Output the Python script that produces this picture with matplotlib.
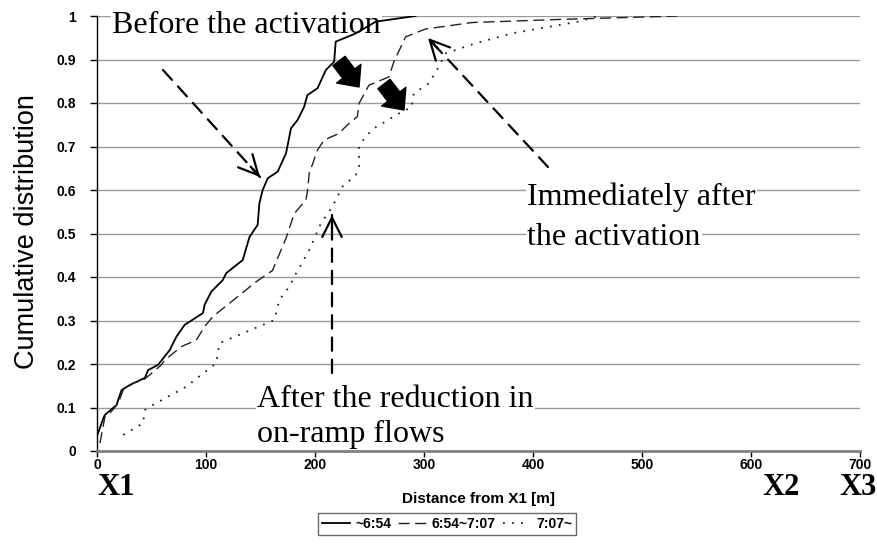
import math
import matplotlib
matplotlib.use("Agg")
import matplotlib.pyplot as plt
from matplotlib.patches import FancyArrowPatch

# ---- data ----
series_labels = ["~6:54", "6:54~7:07", "7:07~"]

before_x = [0.3, 6.4, 7.3, 18, 20.4, 22.6, 30.2, 43.9, 46.9, 56, 66.7, 72.9, 80.4, 97.2, 98.7,
            104.8, 115.4, 118.6, 133.7, 139.9, 147.4, 149, 152, 156.6, 165.7, 173.4, 178, 184,
            190, 193, 202.3, 210, 217.6, 219, 237.4, 255.7, 292.2]
before_y = [0.037, 0.079, 0.083, 0.106, 0.125, 0.140, 0.152, 0.168, 0.186, 0.198, 0.232, 0.263,
            0.290, 0.317, 0.336, 0.366, 0.393, 0.409, 0.439, 0.492, 0.520, 0.570, 0.600, 0.627,
            0.642, 0.684, 0.742, 0.761, 0.791, 0.818, 0.834, 0.876, 0.895, 0.941, 0.960, 0.987, 1.0]

mid_x = [2.7, 7.3, 11.9, 19.5, 24, 33.2, 42.3, 48.4, 59.1, 62.2, 77.4, 91.1, 98.7, 106.3, 146,
         161, 173.4, 181, 191.7, 193.2, 194.7, 202.3, 208.4, 222, 228.2, 238.9, 240.4, 249.5,
         267.8, 272.4, 283.1, 301.3, 344, 423, 533]
mid_y = [0.018, 0.079, 0.087, 0.110, 0.140, 0.156, 0.163, 0.175, 0.198, 0.209, 0.240, 0.255,
         0.286, 0.309, 0.389, 0.415, 0.489, 0.546, 0.577, 0.600, 0.638, 0.692, 0.715, 0.730,
         0.746, 0.769, 0.799, 0.841, 0.860, 0.895, 0.952, 0.970, 0.985, 0.992, 1.0]

after_x = [24, 42.3, 43.9, 48.4, 82, 103.3, 109.4, 112.4, 162.7, 167.3, 176.4, 181, 194.7, 205.4,
           216, 225.2, 237.4, 240.4, 240.4, 246.5, 254.1, 261.7, 277, 289.1, 289.3, 290.7, 304.4,
           313.5, 319.7, 347, 380.5, 441.5, 460]
after_y = [0.037, 0.064, 0.094, 0.102, 0.148, 0.190, 0.202, 0.248, 0.301, 0.347, 0.378, 0.401,
           0.462, 0.523, 0.562, 0.608, 0.634, 0.654, 0.700, 0.723, 0.742, 0.753, 0.776, 0.791,
           0.807, 0.822, 0.845, 0.883, 0.914, 0.937, 0.960, 0.987, 1.0]

x_ticks = [0, 100, 200, 300, 400, 500, 600, 700]
y_ticks = [0, 0.1, 0.2, 0.3, 0.4, 0.5, 0.6, 0.7, 0.8, 0.9, 1]
y_tick_labels = ["0", "0.1", "0.2", "0.3", "0.4", "0.5", "0.6", "0.7", "0.8", "0.9", "1"]

SANS = "Liberation Sans"
SERIF = "Liberation Serif"
W, H = 877, 552

fig = plt.figure(figsize=(W / 100, H / 100), dpi=100)
ax = fig.add_axes([97 / W, 1 - 451 / H, (860 - 97) / W, (451 - 16) / H])


def P(x, y):
    """top-left pixel coords -> figure fraction"""
    return (x / W, 1 - y / H)


ax.set_xlim(0, 700)
ax.set_ylim(0, 1)
ax.set_yticks(y_ticks)
ax.set_yticklabels(y_tick_labels)
ax.set_xticks(x_ticks)
for lab in ax.get_xticklabels() + ax.get_yticklabels():
    lab.set_fontfamily(SANS)
    lab.set_fontweight("bold")
    lab.set_fontsize(10)

ax.grid(axis="y", color="#9a9a9a", lw=1, zorder=0.5)
ax.set_axisbelow(True)
for s in ["top", "right"]:
    ax.spines[s].set_visible(False)
ax.spines["left"].set_color("black")
ax.spines["left"].set_linewidth(1)
ax.spines["bottom"].set_color("#808080")
ax.spines["bottom"].set_linewidth(2)
ax.tick_params(axis="y", direction="out", length=5, width=1, color="black", pad=10)
ax.tick_params(axis="x", direction="out", length=4, width=1, color="black", pad=1)

l1, = ax.plot(before_x, before_y, color="black", lw=1.3, ls="-", zorder=2)
l2, = ax.plot(mid_x, mid_y, color="#222222", lw=1.0, ls=(0, (8, 4)), zorder=2)
l3, = ax.plot(after_x, after_y, color="#222222", lw=1.3, ls=(0, (1, 4)), zorder=2)

fig.text(*P(27, 232), "Cumulative distribution", fontfamily=SANS, fontsize=19.5,
         rotation=90, ha="center", va="center")
fig.text(*P(478, 499), "Distance from X1 [m]", fontfamily=SANS, fontweight="bold",
         fontsize=11, ha="center", va="center")

leg = fig.legend([l1, l2, l3], series_labels, loc="center", bbox_to_anchor=P(447, 524),
                 ncol=3, frameon=True, fancybox=False, edgecolor="#444444",
                 prop={"family": SANS, "weight": "bold", "size": 10},
                 handlelength=2.0, handletextpad=0.4, columnspacing=0.5,
                 borderpad=0.3, borderaxespad=0)
leg.get_frame().set_linewidth(1)

# annotation texts (white boxes hide gridlines, curves drawn above)
box = dict(facecolor="white", edgecolor="none", pad=1)


def note(x, y, s, **kw):
    ax.text(*P(x, y), s, transform=fig.transFigure, fontfamily=SERIF, fontsize=23,
            ha="left", va="baseline", zorder=1.5, clip_on=False, bbox=box, **kw)


note(112, 33, "Before the activation")
note(527, 205, "Immediately after")
note(527, 245, "the activation")
note(257, 407, "After the reduction in")
note(257, 442, "on-ramp flows")

for xx, t, ha in [(97, "X1", "left"), (800, "X2", "right"), (877, "X3", "right")]:
    fig.text(*P(xx, 495), t, fontfamily=SERIF, fontweight="bold", fontsize=22,
             ha=ha, va="baseline")


def dashed_arrow(x0, y0, x1, y1):
    fig.add_artist(FancyArrowPatch(
        P(x0, y0), P(x1, y1), transform=fig.transFigure, arrowstyle="-",
        linestyle=(0, (6, 4)), lw=1.6, color="black", shrinkA=0, shrinkB=0))
    dx, dy = x1 - x0, y1 - y0
    L = math.hypot(dx, dy)
    sx, sy = x1 - dx / L * 14, y1 - dy / L * 14
    fig.add_artist(FancyArrowPatch(
        P(sx, sy), P(x1, y1), transform=fig.transFigure,
        arrowstyle="->,head_length=0.7,head_width=0.35", mutation_scale=20,
        lw=1.6, color="black", shrinkA=0, shrinkB=0))


dashed_arrow(163, 70, 260, 177)
dashed_arrow(548, 167, 428, 38)
dashed_arrow(332, 373, 332, 215)


def block_arrow(x0, y0, x1, y1):
    fig.add_artist(FancyArrowPatch(
        P(x0, y0), P(x1, y1), transform=fig.transFigure,
        arrowstyle="simple,head_length=0.55,head_width=1.0,tail_width=0.5",
        mutation_scale=22, color="black", shrinkA=0, shrinkB=0))


block_arrow(339, 61, 359, 87)
block_arrow(384, 84, 404, 110)

fig.savefig("out.png", dpi=100)
